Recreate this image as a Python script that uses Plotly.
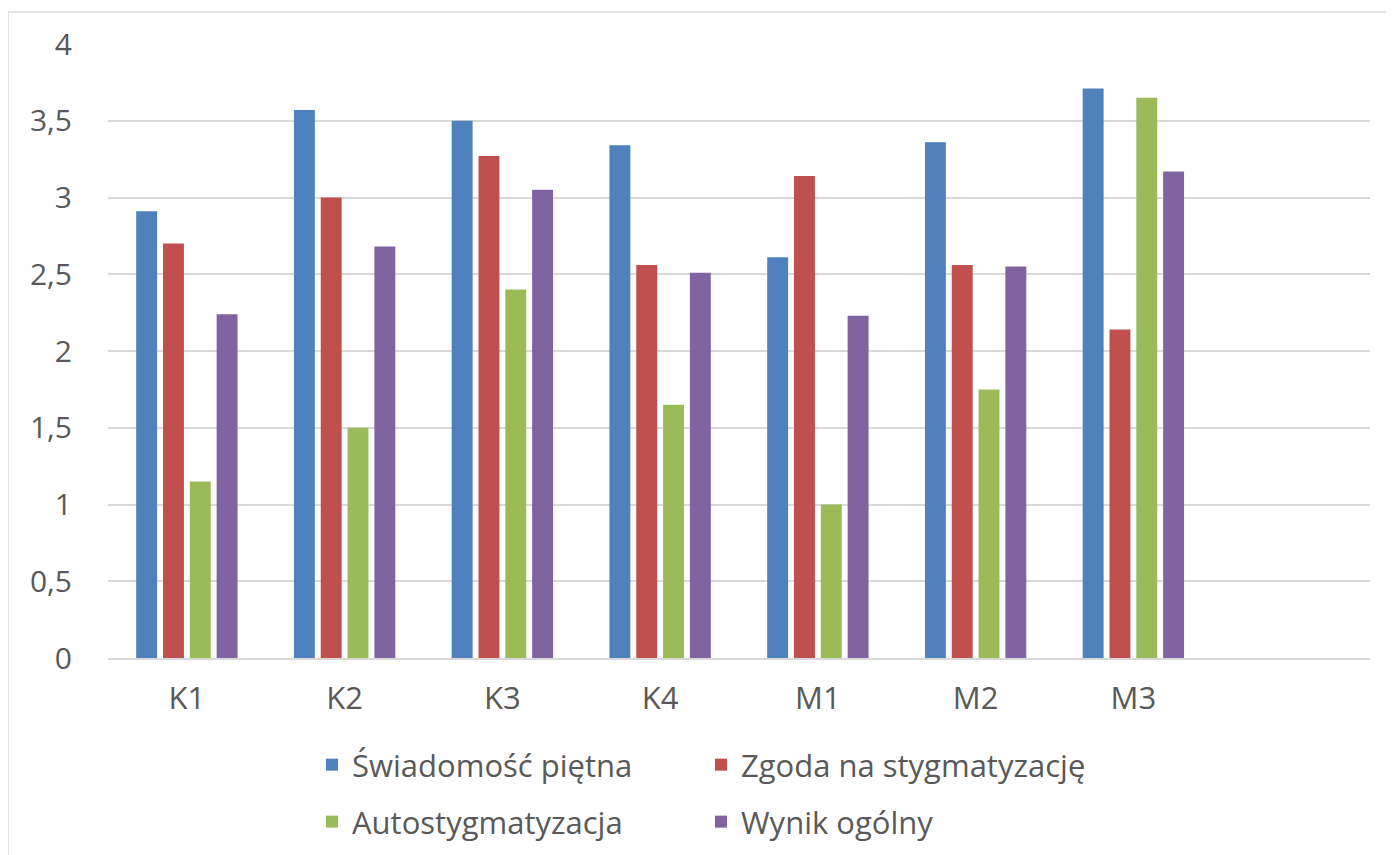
import plotly.graph_objects as go

categories = ["K1", "K2", "K3", "K4", "M1", "M2", "M3"]
series_names = ["Świadomość piętna", "Zgoda na stygmatyzację", "Autostygmatyzacja", "Wynik ogólny"]
swiadomosc = [2.91, 3.57, 3.50, 3.34, 2.61, 3.36, 3.71]
zgoda = [2.70, 3.00, 3.27, 2.56, 3.14, 2.56, 2.14]
autostygmatyzacja = [1.15, 1.50, 2.40, 1.65, 1.00, 1.75, 3.65]
wynik = [2.24, 2.68, 3.05, 2.51, 2.23, 2.55, 3.17]
y_tickvals = [0, 0.5, 1, 1.5, 2, 2.5, 3, 3.5, 4]
y_ticktext = ["0", "0,5", "1", "1,5", "2", "2,5", "3", "3,5", "4"]

colors = ["#4F81BD", "#C0504D", "#9BBB59", "#8064A2"]
values = [swiadomosc, zgoda, autostygmatyzacja, wynik]
legends = ["legend", "legend", "legend2", "legend2"]

OFF = 8  # page body margin
W, H = 1394, 855
L, T = 100, 36
R = W - (1370 - OFF)
B = H - (658 - OFF)
pw, ph = W - L - R, H - T - B

def px_x(p):
    return (p - OFF - L) / pw

def px_y(p):
    return (H - B - (p - OFF)) / ph

fig = go.Figure()
for name, vals, col, lg in zip(series_names, values, colors, legends):
    fig.add_trace(go.Bar(x=categories, y=vals, name=name, marker_color=col,
                         marker_line_width=0, legend=lg))

font = "'Open Sans', sans-serif"
FS = 31
legend_common = dict(orientation="h", xanchor="left", yanchor="middle",
                     entrywidth=344, entrywidthmode="pixels",
                     font=dict(family=font, size=FS, color="#595959"),
                     itemsizing="constant", bgcolor="rgba(0,0,0,0)")
fig.update_layout(
    width=W, height=H,
    margin=dict(l=L, r=R, t=T, b=B),
    paper_bgcolor="white", plot_bgcolor="white",
    barmode="group", bargap=0.32, bargroupgap=0.22,
    font=dict(family=font, size=FS, color="#595959"),
    legend=dict(x=px_x(312), y=px_y(765), **legend_common),
    legend2=dict(x=px_x(312), y=px_y(822), **legend_common),
    xaxis=dict(type="category", range=[-0.5, 7.5], showgrid=False, showline=True,
               linecolor="#d9d9d9", linewidth=2, ticks="", ticklabelstandoff=12,
               tickfont=dict(family=font, size=FS, color="#595959")),
    yaxis=dict(range=[0, 4], tickvals=y_tickvals, ticktext=y_ticktext, showgrid=True,
               gridcolor="#d9d9d9", gridwidth=2, zeroline=False, showline=False,
               ticks="", ticklabelstandoff=35,
               tickfont=dict(family=font, size=30, color="#595959")),
    shapes=[dict(type="rect", xref="paper", yref="paper",
                 x0=px_x(8), x1=px_x(1410), y0=px_y(880), y1=px_y(12),
                 line=dict(color="#d9d9d9", width=1.5), fillcolor="rgba(0,0,0,0)")],
)

fig.write_html("out.html")
